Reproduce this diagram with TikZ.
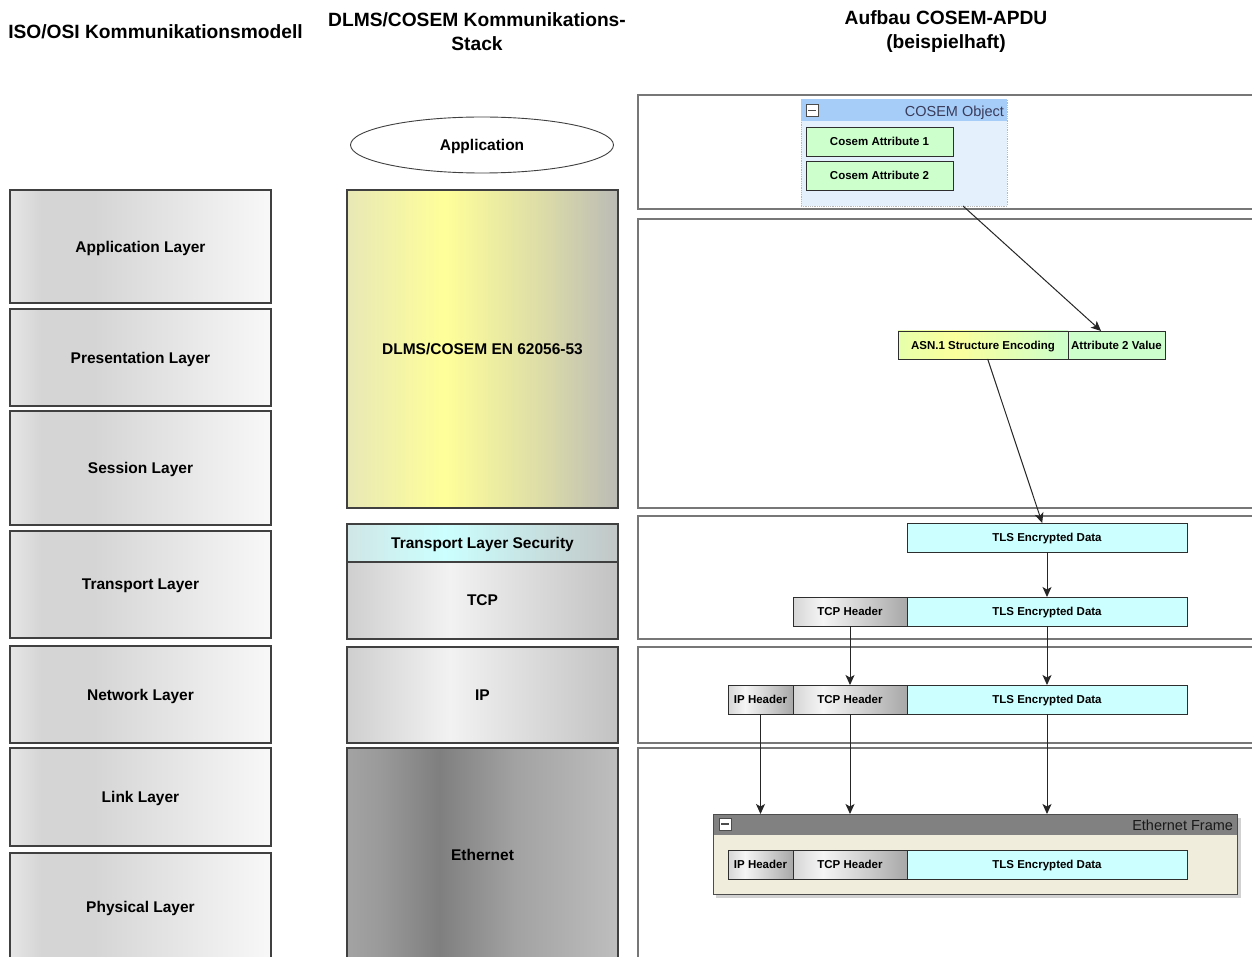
\documentclass[tikz,border=0pt]{standalone}
\usepackage{fontspec}
\setmainfont{Liberation Sans}
\usetikzlibrary{arrows.meta,calc,shapes.geometric}

% colours
\definecolor{osiline}{HTML}{404040}
\definecolor{boxline}{HTML}{2E2E2E}
\definecolor{panelline}{HTML}{777777}
\definecolor{attrgreen}{HTML}{CCFFCC}
\definecolor{tlscyan}{HTML}{CCFFFF}
\definecolor{framebeige}{HTML}{F1EDDC}
\definecolor{framehead}{HTML}{818181}
\definecolor{cosembody}{HTML}{E4F1FD}
\definecolor{cosemhead}{HTML}{A5CDF7}
\definecolor{cosemtext}{HTML}{3B3B5A}

\definecolor{osiA}{HTML}{E6E6E6}\definecolor{osiB}{HTML}{D5D5D5}\definecolor{osiC}{HTML}{F8F8F8}
\definecolor{dlA}{HTML}{E8E8B6}\definecolor{dlB}{HTML}{FFFF9A}\definecolor{dlC}{HTML}{DCDCA8}\definecolor{dlD}{HTML}{BBBBB6}
\definecolor{tlA}{HTML}{D0E6E6}\definecolor{tlB}{HTML}{CCFFFF}\definecolor{tlC}{HTML}{C2C6C6}
\definecolor{grA}{HTML}{CFCFCF}\definecolor{grB}{HTML}{F2F2F2}\definecolor{grC}{HTML}{C2C2C2}
\definecolor{etA}{HTML}{A3A3A3}\definecolor{etB}{HTML}{9A9A9A}\definecolor{etC}{HTML}{7F7F7F}\definecolor{etD}{HTML}{A2A2A2}\definecolor{etE}{HTML}{BEBEBE}
\definecolor{hdA}{HTML}{D6D6D6}\definecolor{hdB}{HTML}{F5F5F5}\definecolor{hdC}{HTML}{A8A8A8}
\definecolor{asA}{HTML}{E6FFAA}\definecolor{asB}{HTML}{FBFF9C}\definecolor{asC}{HTML}{CCFFCC}

% left-to-right gradients (25bp = left edge, 75bp = right edge)
\pgfdeclarehorizontalshading{osishade}{100bp}{color(0bp)=(osiA); color(25bp)=(osiA); color(31bp)=(osiB); color(41bp)=(osiB); color(75bp)=(osiC); color(100bp)=(osiC)}
\pgfdeclarehorizontalshading{dlmsshade}{100bp}{color(0bp)=(dlA); color(25bp)=(dlA); color(43bp)=(dlB); color(61bp)=(dlC); color(75bp)=(dlD); color(100bp)=(dlD)}
\pgfdeclarehorizontalshading{tlsshade}{100bp}{color(0bp)=(tlA); color(25bp)=(tlA); color(43bp)=(tlB); color(75bp)=(tlC); color(100bp)=(tlC)}
\pgfdeclarehorizontalshading{grayshade}{100bp}{color(0bp)=(grA); color(25bp)=(grA); color(44bp)=(grB); color(75bp)=(grC); color(100bp)=(grC)}
\pgfdeclarehorizontalshading{ethshade}{100bp}{color(0bp)=(etA); color(25bp)=(etA); color(31bp)=(etB); color(42bp)=(etC); color(56bp)=(etD); color(75bp)=(etE); color(100bp)=(etE)}
\pgfdeclarehorizontalshading{hdrshade}{100bp}{color(0bp)=(hdA); color(25bp)=(hdA); color(38bp)=(hdB); color(75bp)=(hdC); color(100bp)=(hdC)}
\pgfdeclarehorizontalshading{asnshade}{100bp}{color(0bp)=(asA); color(25bp)=(asA); color(42bp)=(asB); color(75bp)=(asC); color(100bp)=(asC)}

\begin{document}
\begin{tikzpicture}[x=1pt,y=-1pt,
  every node/.style={inner sep=0pt, outer sep=0pt, align=center},
  lbl/.style={font=\bfseries\fontsize{15.5}{18}\selectfont, text depth=0pt},
  small/.style={font=\bfseries\fontsize{11.5}{13}\selectfont, text depth=0pt},
  title/.style={font=\bfseries\fontsize{19.2}{24}\selectfont},
  osibox/.style={lbl, draw=osiline, line width=1.1pt, shade, shading=osishade,
    minimum width=261pt, minimum height=#1},
  stackbox/.style={lbl, draw=osiline, line width=1.1pt, shade, shading=#1,
    minimum width=271pt},
  panel/.style={draw=panelline, line width=1.4pt, fill=white,
    minimum width=624pt, minimum height=#1},
  cell/.style={small, draw=boxline, line width=0.9pt, minimum height=29pt},
  attrcell/.style={cell, fill=attrgreen},
  tlscell/.style={cell, fill=tlscyan, minimum width=280pt},
  tcpcell/.style={cell, shade, shading=hdrshade, minimum width=114pt},
  ipcell/.style={cell, shade, shading=hdrshade, minimum width=65pt},
  minusbox/.style={draw=black!70, fill=white, line width=0.8pt, minimum size=12pt,
    path picture={\draw[line width=1.6pt]
      ([xshift=-3.6pt]path picture bounding box.center) --
      ([xshift=3.6pt]path picture bounding box.center);}},
  arr/.style={draw=black!85, line width=1pt, -{Stealth[length=10pt,width=9pt,inset=2.5pt]}}
]
\path[use as bounding box] (0,0) rectangle (1252,957);
\clip (0,0) rectangle (1252,957);
\fill[white] (0,0) rectangle (1252,957);

% column titles
\node[title] (t1) at (155.5,31.5) {ISO/OSI Kommunikationsmodell};
\node[title] (t2) at (477,31.5) {DLMS/COSEM Kommunikations-\\Stack};
\node[title] (t3) at (946,31.5) {Aufbau COSEM-APDU\\(beispielhaft)};

% ISO/OSI layers
\node[osibox=113pt] (osi7) at (140.5,246.5) {Application Layer};
\node[osibox=97pt]  (osi6) at (140.5,357.5) {Presentation Layer};
\node[osibox=114pt] (osi5) at (140.5,468)   {Session Layer};
\node[osibox=107pt] (osi4) at (140.5,584.5) {Transport Layer};
\node[osibox=97pt]  (osi3) at (140.5,694.5) {Network Layer};
\node[osibox=98pt]  (osi2) at (140.5,797)   {Link Layer};
\node[osibox=108pt] (osi1) at (140.5,907)   {Physical Layer};

% DLMS/COSEM stack
\node[lbl, draw=osiline, line width=0.9pt, fill=white, ellipse, minimum width=263pt,
  minimum height=56pt] (app) at (482,145) {Application};
\node[stackbox=dlmsshade, minimum height=318pt] (dlms) at (482.5,349) {DLMS/COSEM EN 62056-53};
\node[stackbox=tlsshade,  minimum height=38pt]  (tls)  at (482.5,543) {Transport Layer Security};
\node[stackbox=grayshade, minimum height=77pt]  (tcp)  at (482.5,600.5) {TCP};
\node[stackbox=grayshade, minimum height=96pt]  (ip)   at (482.5,695) {IP};
\node[stackbox=ethshade,  minimum height=214pt] (eth)  at (482.5,855) {Ethernet};

% APDU panels
\node[panel=114pt] (p1) at (950,152)   {};
\node[panel=289pt] (p2) at (950,363.5) {};
\node[panel=123pt] (p3) at (950,577.5) {};
\node[panel=96pt]  (p4) at (950,695)   {};
\node[panel=260pt] (p5) at (950,878)   {};

% COSEM object
\node[draw=gray!55, densely dotted, line width=0.8pt, fill=cosembody,
  minimum width=206pt, minimum height=107pt] (cosem) at (904,152.5) {};
\fill[cosemhead] (cosem.north west) rectangle ($(cosem.north east)+(0,22)$);
\node[minusbox] (cosemminus) at (812,110.5) {};
\node[anchor=east, text=cosemtext, font=\fontsize{14.5}{16}\selectfont, text depth=0pt]
  (cosemlbl) at (1004,111) {COSEM Object};
\node[attrcell, minimum width=147pt] (attr1) at (879.5,141.5) {Cosem Attribute 1};
\node[attrcell, minimum width=147pt] (attr2) at (879.5,175.5) {Cosem Attribute 2};

% ASN.1 encoding
\node[cell, shade, shading=asnshade, minimum width=170pt, minimum height=28pt] (asn)
  at (983,345) {ASN.1 Structure Encoding};
\node[attrcell, minimum width=97pt, minimum height=28pt] (a2v) at (1116.5,345) {Attribute 2 Value};

% TLS record
\node[tlscell] (tlsA) at (1047,537.5) {TLS Encrypted Data};

% TCP segment
\node[tcpcell] (tcpB) at (850,611.5) {TCP Header};
\node[tlscell] (tlsB) at (1047,611.5) {TLS Encrypted Data};

% IP packet
\node[ipcell]  (ipC)  at (760.5,699.5) {IP Header};
\node[tcpcell] (tcpC) at (850,699.5) {TCP Header};
\node[tlscell] (tlsC) at (1047,699.5) {TLS Encrypted Data};

% Ethernet frame
\fill[black!18] (716,818) rectangle (1241,898);
\node[draw=black!70, line width=1pt, fill=framebeige, minimum width=524pt,
  minimum height=80pt] (frame) at (975,854) {};
\fill[framehead] ([shift={(0.5,0.5)}]frame.north west) rectangle ($(frame.north east)+(-0.5,21)$);
\node[minusbox] (frameminus) at (725,824) {};
\node[anchor=east, text=black!90, font=\fontsize{14.5}{16}\selectfont, text depth=0pt]
  (framelbl) at (1233,825) {Ethernet Frame};
\node[ipcell]  (ipD)  at (760.5,864.5) {IP Header};
\node[tcpcell] (tcpD) at (850,864.5) {TCP Header};
\node[tlscell] (tlsD) at (1047,864.5) {TLS Encrypted Data};

% encapsulation arrows
\draw[arr] (cosem) -- (a2v);
\draw[arr] (asn) -- (tlsA);
\draw[arr] (tlsA) -- (tlsB);
\draw[arr] (tcpB) -- (tcpC);
\draw[arr] (tlsB) -- (tlsC);
\draw[arr] (ipC.south) -- (ipC |- frame.north);
\draw[arr] (tcpC.south) -- (tcpC |- frame.north);
\draw[arr] (tlsC.south) -- (tlsC |- frame.north);
\end{tikzpicture}
\end{document}
